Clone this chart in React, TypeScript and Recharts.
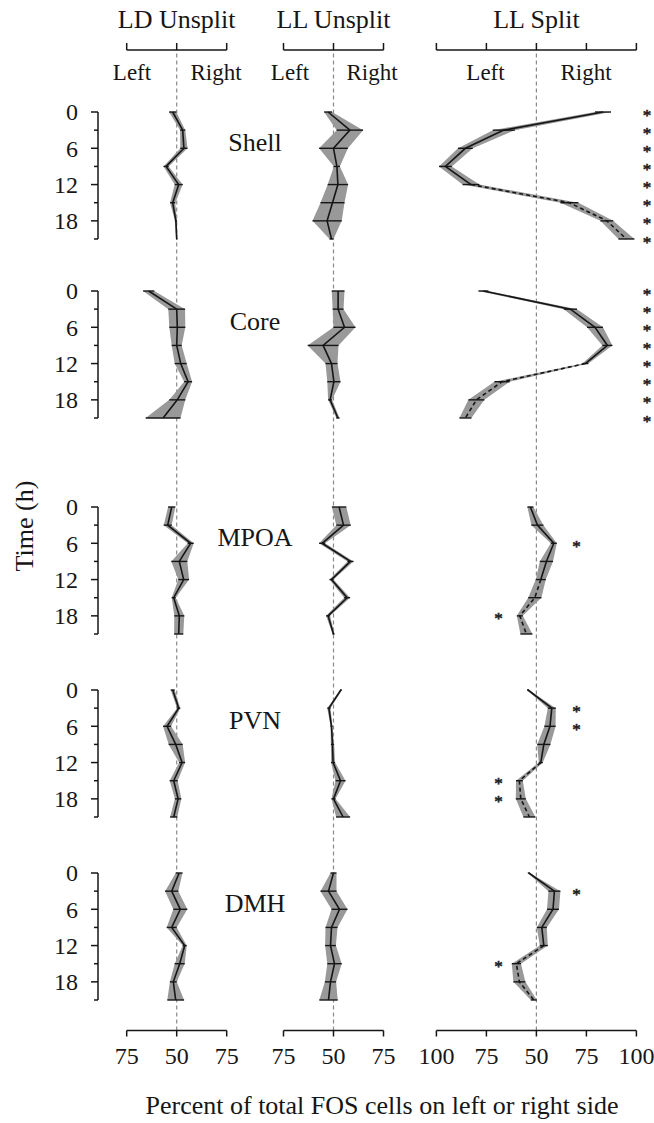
import { ComposedChart, Line, Area, XAxis, YAxis, ErrorBar, ReferenceLine } from "recharts";

const SERIF = '"Liberation Serif", "Times New Roman", Times, serif';
const INK = "#161616";

// sampling times (h) and the time axis
const times = [0, 3, 6, 9, 12, 15, 18, 21];
const timeTicks = [0, 3, 6, 9, 12, 15, 18, 21];
const timeTickLabels = ["0", "", "6", "", "12", "", "18", ""];

// x values are % of cells on the right side; the labels read % on either side
const unsplitTicks = [25, 50, 75];
const unsplitTickLabels = ["75", "50", "75"];
const splitTicks = [0, 25, 50, 75, 100];
const splitTickLabels = ["100", "75", "50", "75", "100"];

const regions = ["Shell", "Core", "MPOA", "PVN", "DMH"];

// mean % of FOS cells on the right side, and SEM
const ldShellMean = [48, 53, 53.6, 44.7, 51, 48, 49.6, 50];
const ldShellSem = [1.8, 1.3, 1.8, 1.3, 2, 1.3, 0.5, 0.3];
const lluShellMean = [47.3, 58.2, 50, 51.7, 52.2, 49.5, 46.8, 49];
const lluShellSem = [2, 6.6, 7.2, 1.5, 5.1, 6, 7.3, 1];
const llsShellMean = [83.3, 33.7, 14.5, 4.5, 17.3, 66.5, 85.2, 95];
const llsShellSem = [4, 5.5, 3.7, 3.2, 4.2, 4.5, 3.2, 4];

const ldCoreMean = [36, 50, 50.3, 50, 52, 55.7, 50.3, 43.2];
const ldCoreSem = [2.8, 4.2, 4, 2.5, 3, 2, 4, 8.7];
const lluCoreMean = [52.3, 52.3, 55.5, 44.8, 49, 50.2, 48.3, 52.2];
const lluCoreSem = [3.2, 2.7, 5.5, 7.7, 3, 3.3, 1, 0.8];
const llsCoreMean = [23.5, 67, 79.3, 85.5, 74.5, 32.8, 20, 14.5];
const llsCoreSem = [2.5, 3.3, 4, 2.5, 1.5, 3.8, 4, 3];

const ldMpoaMean = [47.5, 45.5, 57, 51.3, 53.5, 48.5, 51.3, 51];
const ldMpoaSem = [1.8, 2, 1.5, 4, 2.7, 1, 2.5, 2.3];
const lluMpoaMean = [52.8, 55, 44.3, 58.5, 49, 56.8, 47.3, 50];
const lluMpoaSem = [3.6, 3.6, 1.5, 1.5, 1, 1.5, 1, 0.5];
const llsMpoaMean = [47, 50.5, 58.7, 55, 52.2, 49.2, 41.7, 45];
const llsMpoaSem = [1.5, 3, 1.5, 3.3, 2.5, 3.3, 1.5, 3];

const ldPvnMean = [48, 51, 45.2, 49.5, 52.7, 48.5, 50.7, 48.5];
const ldPvnSem = [1, 0.8, 2, 3.5, 1.5, 2, 1.6, 1.8];
const lluPvnMean = [53.7, 47.7, 49, 49.5, 49.8, 53.5, 50, 54.8];
const lluPvnSem = [0.5, 0.8, 0.5, 0.8, 1, 2.5, 1, 3.5];
const llsPvnMean = [45.8, 57.7, 56.8, 53.7, 52.2, 41.5, 42.2, 46.5];
const llsPvnSem = [0.5, 2, 2.8, 3.3, 1, 1.7, 2.5, 3];

const ldDmhMean = [51.2, 47.5, 51.8, 47.5, 54, 51.5, 48.3, 49.5];
const ldDmhSem = [1.7, 3.3, 3.5, 2.5, 1, 2.5, 1.7, 4.2];
const lluDmhMean = [50, 47.5, 53, 49, 48.5, 50.5, 48.5, 47.5];
const lluDmhSem = [1.5, 4, 4, 3, 2.7, 3.6, 2.8, 4.6];
const llsDmhMean = [46.2, 59, 58.3, 52.7, 53.7, 40, 41.5, 48.7];
const llsDmhSem = [0.5, 3, 3, 2.5, 2, 2.3, 3, 1.5];

// significant left/right difference in the split animals (1 = asterisk)
const shellSig = [1, 1, 1, 1, 1, 1, 1, 1];
const coreSig = [1, 1, 1, 1, 1, 1, 1, 1];
const mpoaSig = [0, 0, 1, 0, 0, 0, 1, 0];
const pvnSig = [0, 1, 1, 0, 0, 1, 1, 0];
const dmhSig = [0, 1, 0, 0, 0, 1, 0, 0];

const series = [
  { ld: [ldShellMean, ldShellSem], llu: [lluShellMean, lluShellSem], lls: [llsShellMean, llsShellSem], sig: shellSig, edge: true },
  { ld: [ldCoreMean, ldCoreSem], llu: [lluCoreMean, lluCoreSem], lls: [llsCoreMean, llsCoreSem], sig: coreSig, edge: true },
  { ld: [ldMpoaMean, ldMpoaSem], llu: [lluMpoaMean, lluMpoaSem], lls: [llsMpoaMean, llsMpoaSem], sig: mpoaSig, edge: false },
  { ld: [ldPvnMean, ldPvnSem], llu: [lluPvnMean, lluPvnSem], lls: [llsPvnMean, llsPvnSem], sig: pvnSig, edge: false },
  { ld: [ldDmhMean, ldDmhSem], llu: [lluDmhMean, lluDmhSem], lls: [llsDmhMean, llsDmhSem], sig: dmhSig, edge: false },
];

// layout
const W = 654;
const H = 1123;
const AXIS_X = 98;
const PLOT_H = 127;
const PAD = 16;
const rowTops = [111.5, 291, 507, 689.5, 872.5];
const TOP_AXIS_Y = 50;
const BOTTOM_AXIS_Y = 1030.5;
const STAR_EDGE = 105.3;
const STAR_RIGHT = 70;
const STAR_LEFT = 31;

const columns = [
  { id: "ld", title: "LD Unsplit", center: 176.7, ticks: unsplitTicks, tickLabels: unsplitTickLabels, leftX: 132, rightX: 216 },
  { id: "llu", title: "LL Unsplit", center: 333.5, ticks: unsplitTicks, tickLabels: unsplitTickLabels, leftX: 290, rightX: 372 },
  { id: "lls", title: "LL Split", center: 536.4, ticks: splitTicks, tickLabels: splitTickLabels, leftX: 485.5, rightX: 586 },
];

// 2 px per percent everywhere; hidden axes are stretched over the whole row
const rowDomain = (center: number) => [50 + (AXIS_X - center) / 2, 50 + (W - center) / 2];

const buildRow = (s: any) =>
  times.map((t, i) => {
    const row: any = { t };
    for (const key of ["ld", "llu", "lls"]) {
      const m = s[key][0][i];
      const e = s[key][1][i];
      row[key] = m;
      row[key + "Err"] = e;
      row[key + "Band"] = [m - e, m + e];
    }
    row.llsSolid = t <= 12 ? row.lls : null;
    row.llsDash = t >= 12 ? row.lls : null;
    row.star = s.sig[i] ? (s.edge ? STAR_EDGE : row.lls > 50 ? STAR_RIGHT : STAR_LEFT) : null;
    return row;
  });

const TimeTick = (props: any) => {
  const { x, y, payload } = props;
  const idx = timeTicks.indexOf(payload.value);
  const label = timeTickLabels[idx];
  const len = label ? 7 : 4;
  return (
    <g>
      <line x1={x - len} x2={x} y1={y} y2={y} stroke={INK} strokeWidth={1.5} />
      {label ? (
        <text x={x - 20} y={y} dy="0.35em" textAnchor="end" fontSize={24} fontFamily={SERIF} fill={INK}>
          {label}
        </text>
      ) : null}
    </g>
  );
};

const NoTick = () => <g />;

const Star = (props: any) => {
  const { cx, cy, value, index } = props;
  if (value == null || cx == null || cy == null) return <g key={index} />;
  return (
    <text
      key={index}
      x={cx}
      y={cy + 8.5}
      textAnchor="middle"
      fontSize={17}
      fontFamily={SERIF}
      fill="#222"
      stroke="#222"
      strokeWidth={0.6}
    >
      *
    </text>
  );
};

const Label = ({ x, y, size, rotate, children }: any) => (
  <div
    style={{
      position: "absolute",
      left: x,
      top: y,
      transform: `translate(-50%, -50%)${rotate ? " rotate(-90deg)" : ""}`,
      fontFamily: SERIF,
      fontSize: size,
      lineHeight: 1,
      whiteSpace: "nowrap",
      color: INK,
    }}
  >
    {children}
  </div>
);

const frameData = times.map((t) => ({ t }));

const Frame = ({ col }: any) => {
  const lo = col.ticks[0];
  const hi = col.ticks[col.ticks.length - 1];
  const half = hi - lo;
  const left = col.center - half;
  const right = W - (col.center + half);
  return (
    <div style={{ position: "absolute", left: 0, top: 0 }}>
      <ComposedChart
        layout="vertical"
        width={W}
        height={H}
        data={frameData}
        margin={{ top: 0, bottom: H - BOTTOM_AXIS_Y - 50, left, right }}
      >
        <XAxis
          xAxisId="top"
          orientation="top"
          type="number"
          domain={[lo, hi]}
          allowDataOverflow
          ticks={col.ticks}
          interval={0}
          height={TOP_AXIS_Y}
          tick={<NoTick />}
          tickSize={7}
          axisLine={{ stroke: INK, strokeWidth: 1.5 }}
          tickLine={{ stroke: INK, strokeWidth: 1.5 }}
        />
        <XAxis
          xAxisId="bottom"
          orientation="bottom"
          type="number"
          domain={[lo, hi]}
          allowDataOverflow
          ticks={col.ticks}
          interval={0}
          height={50}
          tickSize={6}
          tickMargin={10}
          tickFormatter={(v: number) => col.tickLabels[col.ticks.indexOf(v)]}
          tick={{ fontSize: 24, fontFamily: SERIF, fill: INK }}
          axisLine={{ stroke: INK, strokeWidth: 1.5 }}
          tickLine={{ stroke: INK, strokeWidth: 1.5 }}
        />
        <YAxis type="number" dataKey="t" domain={[0, 21]} allowDataOverflow hide />
        <ReferenceLine xAxisId="bottom" x={50} stroke="#8a8a8a" strokeWidth={1.2} strokeDasharray="4 3" />
      </ComposedChart>
    </div>
  );
};

const RegionRow = ({ idx }: any) => {
  const data = buildRow(series[idx]);
  return (
    <div style={{ position: "absolute", left: 0, top: rowTops[idx] - PAD }}>
      <ComposedChart
        layout="vertical"
        width={W}
        height={PLOT_H + 2 * PAD}
        data={data}
        margin={{ top: PAD, bottom: PAD, left: AXIS_X - 40, right: 0 }}
      >
        <YAxis
          type="number"
          dataKey="t"
          domain={[0, 21]}
          ticks={timeTicks}
          interval={0}
          width={40}
          tickSize={0}
          tickMargin={0}
          tickLine={false}
          tick={<TimeTick />}
          axisLine={{ stroke: INK, strokeWidth: 1.5 }}
        />
        {columns.map((c) => (
          <XAxis key={"x" + c.id} xAxisId={c.id} type="number" hide domain={rowDomain(c.center)} />
        ))}
        {columns.map((c) => (
          <Area
            key={"a" + c.id}
            xAxisId={c.id}
            dataKey={c.id + "Band"}
            type="linear"
            fill="#999999"
            fillOpacity={1}
            stroke="none"
            isAnimationActive={false}
          />
        ))}
        {columns.map((c) => (
          <Line
            key={"l" + c.id}
            xAxisId={c.id}
            dataKey={c.id}
            type="linear"
            stroke={c.id === "lls" ? "none" : INK}
            strokeWidth={1.6}
            dot={false}
            activeDot={false}
            isAnimationActive={false}
          >
            <ErrorBar dataKey={c.id + "Err"} direction="x" width={0} stroke={INK} strokeWidth={1.4} />
          </Line>
        ))}
        <Line xAxisId="lls" dataKey="llsSolid" type="linear" stroke={INK} strokeWidth={1.6} dot={false} activeDot={false} isAnimationActive={false} />
        <Line xAxisId="lls" dataKey="llsDash" type="linear" stroke={INK} strokeWidth={1.6} strokeDasharray="4 3" dot={false} activeDot={false} isAnimationActive={false} />
        <Line xAxisId="lls" dataKey="star" stroke="none" dot={<Star />} activeDot={false} isAnimationActive={false} />
      </ComposedChart>
    </div>
  );
};

export default function App() {
  return (
    <div style={{ position: "absolute", left: 0, top: 0, width: W, height: H, background: "#fff", overflow: "hidden" }}>
      {columns.map((c) => (
        <Frame key={c.id} col={c} />
      ))}
      {regions.map((r, i) => (
        <RegionRow key={r} idx={i} />
      ))}
      {columns.map((c) => (
        <Label key={"t" + c.id} x={c.center} y={20} size={26}>
          {c.title}
        </Label>
      ))}
      {columns.map((c) => [
        <Label key={"L" + c.id} x={c.leftX} y={72} size={23}>
          Left
        </Label>,
        <Label key={"R" + c.id} x={c.rightX} y={72} size={23}>
          Right
        </Label>,
      ])}
      {regions.map((r, i) => (
        <Label key={"n" + r} x={255} y={rowTops[i] + 31} size={26}>
          {r}
        </Label>
      ))}
      <Label x={25} y={526} size={26} rotate>
        Time (h)
      </Label>
      <Label x={382} y={1106} size={26}>
        Percent of total FOS cells on left or right side
      </Label>
    </div>
  );
}
